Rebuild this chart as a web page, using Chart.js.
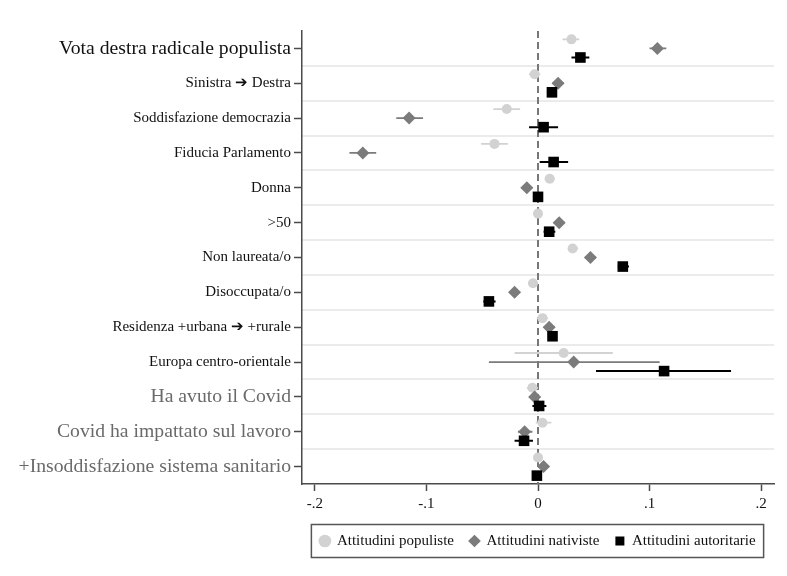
<!DOCTYPE html>
<html>
<head>
<meta charset="utf-8">
<script src="https://cdn.jsdelivr.net/npm/chart.js@4.4.1/dist/chart.umd.min.js"></script>
<style>
  body { margin: 0; background: #fff; }
</style>
</head>
<body>
<canvas id="coefChart" width="787" height="576"></canvas>
<script>
// Categorie (dall'alto verso il basso)
const categories = [
  'Vota destra radicale populista',
  'Sinistra \u2794 Destra',
  'Soddisfazione democrazia',
  'Fiducia Parlamento',
  'Donna',
  '>50',
  'Non laureata/o',
  'Disoccupata/o',
  'Residenza +urbana \u2794 +rurale',
  'Europa centro-orientale',
  'Ha avuto il Covid',
  'Covid ha impattato sul lavoro',
  '+Insoddisfazione sistema sanitario'
];

const xTickValues = [-0.2, -0.1, 0, 0.1, 0.2];
const xTickLabels = ['-.2', '-.1', '0', '.1', '.2'];

const seriesNames = ['Attitudini populiste', 'Attitudini nativiste', 'Attitudini autoritarie'];

// Coefficienti e intervalli
const populisteCoef = [0.030, -0.003, -0.028, -0.039, 0.0105, 0.000, 0.031, -0.0045, 0.004, 0.023, -0.005, 0.004, 0.000];
const populisteLo   = [0.022, -0.008, -0.040, -0.051, 0.006, -0.004, 0.027, -0.009, -0.001, -0.021, -0.010, -0.002, -0.004];
const populisteHi   = [0.037, 0.002, -0.016, -0.027, 0.015, 0.004, 0.036, 0.000, 0.009, 0.067, 0.000, 0.012, 0.004];

const nativisteCoef = [0.107, 0.018, -0.1155, -0.157, -0.010, 0.019, 0.047, -0.021, 0.010, 0.032, -0.003, -0.012, 0.005];
const nativisteLo   = [0.100, 0.013, -0.127, -0.169, -0.015, 0.014, 0.042, -0.026, 0.005, -0.044, -0.008, -0.018, 0.000];
const nativisteHi   = [0.115, 0.023, -0.103, -0.145, -0.005, 0.024, 0.052, -0.016, 0.015, 0.109, 0.002, -0.005, 0.010];

const autoritarieCoef = [0.038, 0.0125, 0.005, 0.014, 0.000, 0.010, 0.076, -0.044, 0.013, 0.113, 0.001, -0.0125, -0.001];
const autoritarieLo   = [0.030, 0.008, -0.008, 0.0015, -0.004, 0.005, 0.0715, -0.049, 0.009, 0.052, -0.005, -0.021, -0.005];
const autoritarieHi   = [0.046, 0.017, 0.018, 0.027, 0.004, 0.0155, 0.0815, -0.038, 0.017, 0.173, 0.0075, -0.0045, 0.003];

const FONT = '"Liberation Serif", "Times New Roman", serif';
const AXIS_COLOR = '#4a4a4a';
const colors = ['#d2d2d2', '#7b7b7b', '#000000'];
const rowShift = [-0.26, 0, 0.26];

function markerPoints(values, k) {
  return values.map((v, i) => ({ x: v, y: i + 1 + rowShift[k] }));
}

function barPoints(lo, hi, k) {
  const out = [];
  lo.forEach((l, i) => {
    const y = i + 1 + rowShift[k];
    out.push({ x: l, y: y }, { x: hi[i], y: y }, { x: null, y: null });
  });
  return out;
}

// cornice attorno alla legenda
const legendFrame = {
  id: 'legendFrame',
  afterDraw(chart) {
    const boxes = chart.legend && chart.legend.legendHitBoxes;
    if (!boxes || !boxes.length) return;
    const left = Math.min(...boxes.map(b => b.left)) - 9;
    const right = Math.max(...boxes.map(b => b.left + b.width)) + 8;
    const top = boxes[0].top - 9;
    const bottom = boxes[0].top + boxes[0].height + 9;
    const ctx = chart.ctx;
    ctx.save();
    ctx.strokeStyle = '#555';
    ctx.lineWidth = 1.5;
    ctx.strokeRect(left, top, right - left, bottom - top);
    ctx.restore();
  }
};

const markerStyles = [
  { pointStyle: 'circle', radius: 5 },
  { pointStyle: 'rectRot', radius: 6.5 },
  { pointStyle: 'rect', radius: 7.5 }
];
const coefs = [populisteCoef, nativisteCoef, autoritarieCoef];
const los = [populisteLo, nativisteLo, autoritarieLo];
const his = [populisteHi, nativisteHi, autoritarieHi];

const datasets = [];
// marcatori (dataset 0-2)
coefs.forEach((vals, k) => {
  datasets.push({
    type: 'scatter',
    label: seriesNames[k],
    data: markerPoints(vals, k),
    backgroundColor: colors[k],
    borderColor: colors[k],
    borderWidth: 0,
    pointStyle: markerStyles[k].pointStyle,
    pointRadius: markerStyles[k].radius,
    pointBorderWidth: 0,
    order: 5 - 2 * k
  });
});
// barre di errore
los.forEach((lo, k) => {
  datasets.push({
    type: 'line',
    label: 'ci' + k,
    data: barPoints(lo, his[k], k),
    borderColor: colors[k],
    borderWidth: k === 2 ? 2 : 1.8,
    pointRadius: 0,
    showLine: true,
    spanGaps: false,
    order: 6 - 2 * k
  });
});
// linea dello zero
datasets.push({
  type: 'line',
  label: 'zero',
  data: [{ x: 0, y: 0.5 }, { x: 0, y: 13.5 }],
  borderColor: '#777',
  borderWidth: 2,
  borderDash: [7, 4],
  pointRadius: 0,
  showLine: true,
  order: 10
});

new Chart(document.getElementById('coefChart').getContext('2d'), {
  type: 'scatter',
  data: { datasets: datasets },
  plugins: [legendFrame],
  options: {
    responsive: false,
    animation: false,
    events: [],
    layout: { padding: { top: 31, right: 13, bottom: 17.5, left: 0 } },
    plugins: {
      tooltip: { enabled: false },
      legend: {
        position: 'bottom',
        fullSize: false,
        labels: {
          usePointStyle: true,
          boxWidth: 9,
          boxHeight: 9,
          padding: 16,
          color: '#111',
          font: { family: FONT, size: 15 },
          filter: item => item.datasetIndex < 3,
          sort: (a, b) => a.datasetIndex - b.datasetIndex
        }
      }
    },
    scales: {
      x: {
        type: 'linear',
        min: -0.2115,
        max: 0.2115,
        afterBuildTicks: s => { s.ticks = xTickValues.map(v => ({ value: v })); },
        afterFit: s => { s.height = 33.5; },
        ticks: {
          autoSkip: false,
          maxRotation: 0,
          padding: 4,
          color: '#111',
          font: { family: FONT, size: 15 },
          callback: (v, i) => xTickLabels[i]
        },
        grid: { drawOnChartArea: false, tickLength: 7, tickColor: AXIS_COLOR, tickWidth: 1.5 },
        border: { color: AXIS_COLOR, width: 1.5 }
      },
      y: {
        type: 'linear',
        min: 0.5,
        max: 13.5,
        reverse: true,
        afterBuildTicks: s => { s.ticks = categories.map((c, i) => ({ value: i + 1 })); },
        afterFit: s => { s.width = 302; },
        ticks: {
          autoSkip: false,
          padding: 3,
          callback: v => categories[v - 1],
          font: ctx => {
            const i = ctx.index;
            const big = i === 0 || i >= 10;
            return { family: FONT, size: big ? 19.7 : 15 };
          },
          color: ctx => (ctx.index >= 10 ? '#6a6a6a' : '#111')
        },
        grid: { drawOnChartArea: false, tickLength: 8, tickColor: AXIS_COLOR, tickWidth: 1.5 },
        border: { color: AXIS_COLOR, width: 1.5 }
      },
      yGrid: {
        type: 'linear',
        position: 'right',
        min: 0.5,
        max: 13.5,
        reverse: true,
        afterBuildTicks: s => { s.ticks = categories.slice(1).map((c, i) => ({ value: i + 1.5 })); },
        afterFit: s => { s.width = 0; },
        ticks: { display: false },
        grid: { color: '#ebebeb', lineWidth: 2, drawTicks: false },
        border: { display: false }
      }
    }
  }
});
</script>
</body>
</html>
